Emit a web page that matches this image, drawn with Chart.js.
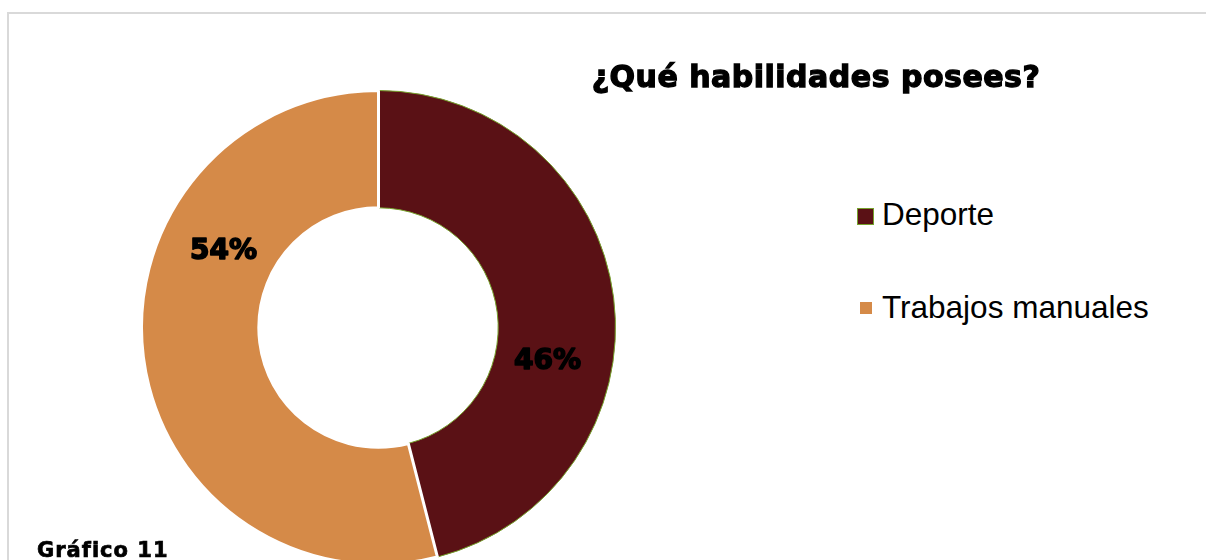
<!DOCTYPE html>
<html lang="es">
<head>
<meta charset="utf-8">
<title>¿Qué habilidades posees?</title>
<script src="https://cdn.jsdelivr.net/npm/chart.js@4.4.0/dist/chart.umd.min.js"></script>
<style>
  html, body {
    margin: 0;
    padding: 0;
    width: 1206px;
    height: 560px;
    overflow: hidden;
    background: #ffffff;
  }
  .marco {
    position: absolute;
    left: 7px;
    top: 12px;
    width: 1220px;
    height: 620px;
    border: 2px solid #d9d9d9;
  }
  .grafica {
    position: absolute;
    left: 140px;
    top: 89px;
    width: 477px;
    height: 477px;
  }
  .titulo {
    position: absolute;
    left: 566px;
    top: 59px;
    width: 500px;
    text-align: center;
    font-family: "DejaVu Sans", sans-serif;
    font-weight: bold;
    font-size: 30px;
    line-height: 36px;
    letter-spacing: 0.5px;
    -webkit-text-stroke: 1.3px #000;
    white-space: nowrap;
    color: #000;
  }
  .leyenda {
    position: absolute;
    left: 882px;
    font-family: "Liberation Sans", Arial, sans-serif;
    font-size: 31.5px;
    line-height: 36px;
    white-space: nowrap;
    color: #000;
  }
  .caja {
    position: absolute;
    box-sizing: border-box;
  }
  .pie {
    position: absolute;
    left: 37px;
    top: 538px;
    font-family: "DejaVu Sans", sans-serif;
    font-weight: bold;
    font-size: 21px;
    line-height: 24px;
    letter-spacing: 1px;
    -webkit-text-stroke: 0.7px #000;
    white-space: nowrap;
    color: #000;
  }
</style>
</head>
<body>
<div class="marco"></div>
<div class="grafica"><canvas id="habilidadesChart"></canvas></div>
<div class="titulo">¿Qué habilidades posees?</div>
<div id="leyenda"></div>
<div class="pie">Gráfico 11</div>

<script>
// Datos de la encuesta
const categorias = ['Deporte', 'Trabajos manuales'];
const porcentajes = [46, 54];
const etiquetas = ['46%', '54%'];

const colores = ['#5a1115', '#d58a48'];
const bordes = ['#76a12c', '#ffffff'];

// Leyenda a la derecha
const leyenda = document.getElementById('leyenda');
const filas = [
  { top: 196, caja: { left: 857, top: 208, size: 17, borde: '1px solid ' + bordes[0] } },
  { top: 289, caja: { left: 860, top: 302, size: 12, borde: 'none' } }
];
categorias.forEach((cat, i) => {
  const f = filas[i];
  const caja = document.createElement('div');
  caja.className = 'caja';
  caja.style.left = f.caja.left + 'px';
  caja.style.top = f.caja.top + 'px';
  caja.style.width = f.caja.size + 'px';
  caja.style.height = f.caja.size + 'px';
  caja.style.background = colores[i];
  caja.style.border = f.caja.borde;
  leyenda.appendChild(caja);

  const txt = document.createElement('div');
  txt.className = 'leyenda';
  txt.style.top = f.top + 'px';
  txt.textContent = cat;
  leyenda.appendChild(txt);
});

// Etiquetas de porcentaje dentro de cada sector
const etiquetasSector = {
  id: 'etiquetasSector',
  afterDatasetsDraw(chart, args, opts) {
    const { ctx } = chart;
    const meta = chart.getDatasetMeta(0);
    ctx.save();
    ctx.font = opts.font;
    ctx.fillStyle = opts.color;
    ctx.strokeStyle = opts.color;
    ctx.lineWidth = opts.grosor;
    ctx.lineJoin = 'round';
    ctx.textAlign = 'center';
    ctx.textBaseline = 'middle';
    meta.data.forEach((arc, i) => {
      const p = arc.getProps(['x', 'y', 'startAngle', 'endAngle', 'innerRadius', 'outerRadius'], true);
      const ang = (p.startAngle + p.endAngle) / 2 + opts.giro[i] * Math.PI / 180;
      const r = p.innerRadius + (p.outerRadius - p.innerRadius) * opts.radio;
      const x = p.x + Math.cos(ang) * r;
      const y = p.y + Math.sin(ang) * r;
      ctx.strokeText(etiquetas[i], x, y);
      ctx.fillText(etiquetas[i], x, y);
    });
    ctx.restore();
  }
};

const config = {
  type: 'doughnut',
  data: {
    labels: categorias,
    datasets: [{
      data: porcentajes,
      backgroundColor: colores,
      borderColor: bordes,
      borderWidth: [1, 3]
    }]
  },
  options: {
    responsive: true,
    maintainAspectRatio: false,
    animation: false,
    cutout: '50.5%',
    layout: { padding: 0 },
    plugins: {
      legend: { display: false },
      tooltip: { enabled: false },
      etiquetasSector: {
        font: 'bold 28px "DejaVu Sans", sans-serif',
        color: '#000000',
        grosor: 1.6,
        giro: [18.6, 33.2],
        radio: 0.45
      }
    }
  },
  plugins: [etiquetasSector]
};

const ctx = document.getElementById('habilidadesChart').getContext('2d');
new Chart(ctx, config);
</script>
</body>
</html>
